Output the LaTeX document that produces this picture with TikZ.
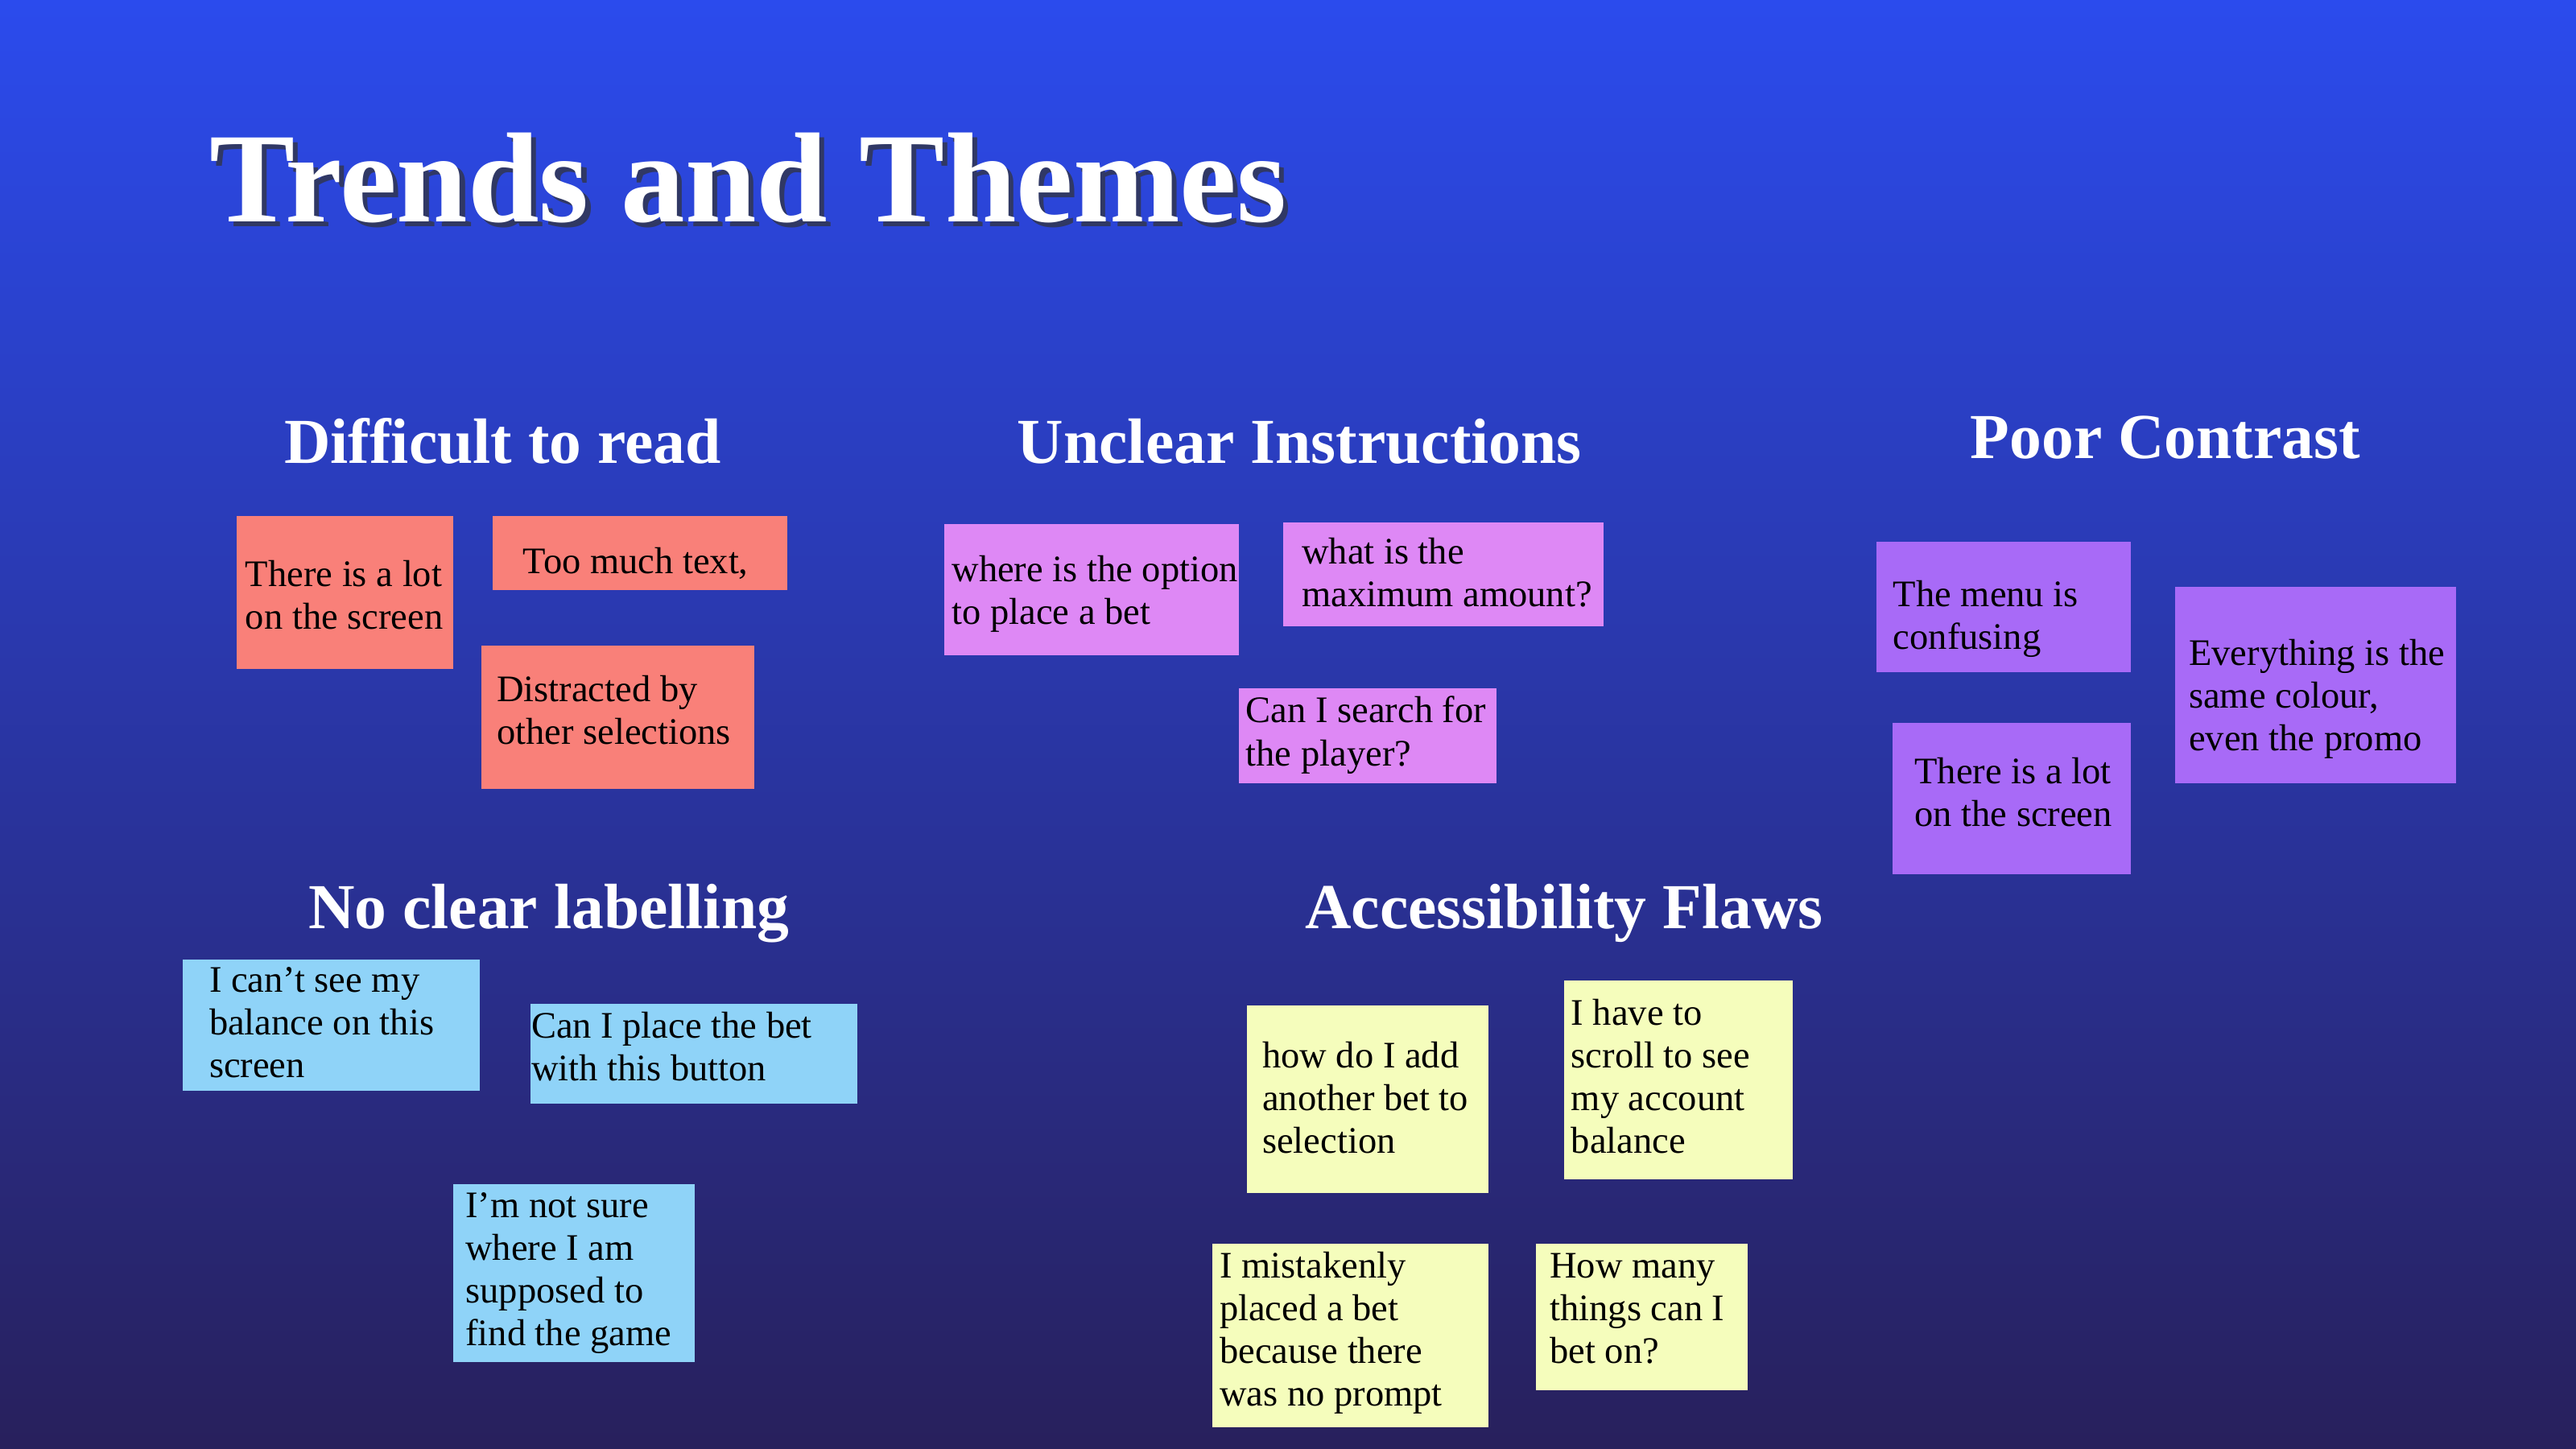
\documentclass[tikz,border=0pt]{standalone}
\usepackage{fontspec}
\setmainfont{Liberation Serif}
\definecolor{salmon}{HTML}{F98079}
\definecolor{pinkv}{HTML}{DE88F5}
\definecolor{purp}{HTML}{A86AF7}
\definecolor{lblue}{HTML}{8FD3F8}
\definecolor{lyell}{HTML}{F5FDBC}
\begin{document}
\begin{tikzpicture}[x=0.5pt,y=-0.5pt,
  note/.style={anchor=base west,align=left,inner sep=0pt,font=\fontsize{11.4}{13}\selectfont,text=black},
  head/.style={anchor=base,inner sep=0pt,text=white,font=\bfseries\fontsize{19.5}{22}\selectfont}]
\shade[top color={rgb,255:red,43;green,75;blue,237},bottom color={rgb,255:red,40;green,32;blue,92}] (0,0) rectangle (1568,882);
\useasboundingbox (0,0) rectangle (1568,882);
\node[anchor=base west,inner sep=0pt,text=black!80,opacity=0.7,font=\bfseries\fontsize{39}{44}\selectfont] (tshadow) at (130,138) {Trends and Themes};
\node[anchor=base west,inner sep=0pt,text=white,font=\bfseries\fontsize{39}{44}\selectfont] (title) at (127,135) {Trends and Themes};
\node[head] (h1) at (306,282) {Difficult to read};
\node[head] (h2) at (791,282) {Unclear Instructions};
\node[head] (h3) at (1318,279) {Poor Contrast};
\node[head] (h4) at (334,565) {No clear labelling};
\node[head] (h5) at (952,565) {Accessibility Flaws};
% notes (y = baseline of last line)
\fill[salmon] (144,314) rectangle (276,407);
\node[note] (a1) at (149,383) {There is a lot\\on the screen};
\fill[salmon] (300,314) rectangle (479,359);
\node[note] (a2) at (318,349) {Too much text,};
\fill[salmon] (293,393) rectangle (459,480);
\node[note] (a3) at (302,453) {Distracted by\\other selections};
\fill[pinkv] (575,319) rectangle (754,399);
\node[note] (b1) at (579,380) {where is the option\\to place a bet};
\fill[pinkv] (781,318) rectangle (976,381);
\node[note] (b2) at (792,369) {what is the\\maximum amount?};
\fill[pinkv] (754,419) rectangle (911,477);
\node[note] (b3) at (758,466) {Can I search for\\the player?};
\fill[purp] (1142,330) rectangle (1297,409);
\node[note] (c1) at (1152,395) {The menu is\\confusing};
\fill[purp] (1152,440) rectangle (1297,532);
\node[note] (c2) at (1165,503) {There is a lot\\on the screen};
\fill[purp] (1324,357) rectangle (1495,477);
\node[note] (c3) at (1332,457) {Everything is the\\same colour,\\even the promo};
\fill[lblue] (111,584) rectangle (292,664);
\node[note] (d1) at (127,656) {I can’t see my\\balance on this\\screen};
\fill[lblue] (323,611) rectangle (522,672);
\node[note] (d2) at (323,658) {Can I place the bet\\with this button};
\fill[lblue] (276,721) rectangle (423,829);
\node[note] (d3) at (283,819) {I’m not sure\\where I am\\supposed to\\find the game};
\fill[lyell] (759,612) rectangle (906,726);
\node[note] (e1) at (768,702) {how do I add\\another bet to\\selection};
\fill[lyell] (952,597) rectangle (1091,718);
\node[note] (e2) at (956,702) {I have to\\scroll to see\\my account\\balance};
\fill[lyell] (738,757) rectangle (906,869);
\node[note] (e3) at (742,856) {I mistakenly\\placed a bet\\because there\\was no prompt};
\fill[lyell] (935,757) rectangle (1064,846);
\node[note] (e4) at (943,830) {How many\\things can I\\bet on?};
\end{tikzpicture}
\end{document}
